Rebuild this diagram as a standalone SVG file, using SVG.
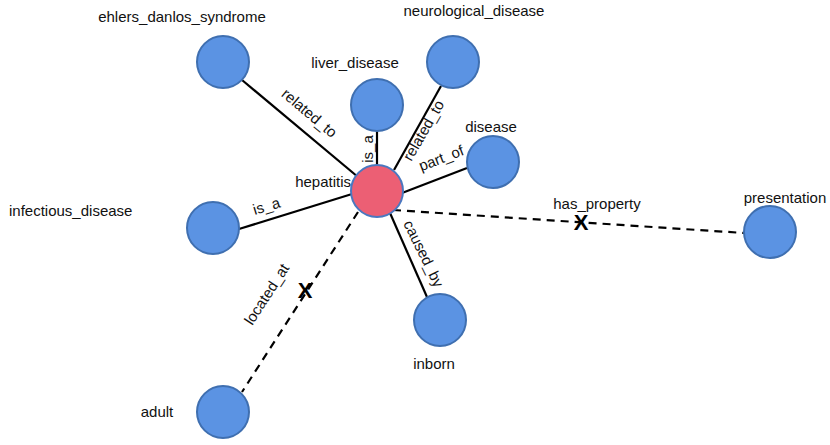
<svg xmlns="http://www.w3.org/2000/svg" width="830" height="445" viewBox="0 0 830 445">
<style>
.n{fill:#5b93e3;stroke:#3f6fb0;stroke-width:2}
.h{fill:#ec5f74;stroke:#4a78c0;stroke-width:2}
.t{font-family:"Liberation Sans",Arial,sans-serif;font-size:15px;fill:#111}
.e{font-family:"Liberation Sans",Arial,sans-serif;font-size:15px;fill:#111}
.s{stroke:#000;stroke-width:2.2;fill:none}
.d{stroke:#000;stroke-width:2.2;fill:none;stroke-dasharray:8,6}
.x{font-family:"Liberation Sans",Arial,sans-serif;font-size:22px;font-weight:bold;fill:#000}
</style>
<rect width="830" height="445" fill="#fff"/>
<g id="connectors">
<line class="s" x1="242" y1="80" x2="358" y2="177"/>
<line class="s" x1="377" y1="131" x2="377" y2="166"/>
<line class="s" x1="441" y1="86" x2="394" y2="170"/>
<line class="s" x1="467" y1="168" x2="402" y2="193"/>
<line class="s" x1="239" y1="229" x2="352" y2="194"/>
<line class="s" x1="390" y1="213" x2="427" y2="297"/>
<line class="d" x1="393" y1="210" x2="744" y2="233"/>
<line class="d" x1="358" y1="212" x2="242" y2="392"/>
<text class="e" text-anchor="middle" transform="translate(306,117) rotate(40)">related_to</text>
<text class="e" text-anchor="middle" transform="translate(373,149) rotate(-90)">is_a</text>
<text class="e" text-anchor="middle" transform="translate(428,133) rotate(-60)">related_to</text>
<text class="e" text-anchor="middle" transform="translate(443,163) rotate(-21)">part_of</text>
<text class="e" text-anchor="middle" transform="translate(268,211) rotate(-17)">is_a</text>
<text class="e" text-anchor="middle" transform="translate(597,209)">has_property</text>
<text class="e" text-anchor="middle" transform="translate(419,256) rotate(64)">caused_by</text>
<text class="e" text-anchor="middle" transform="translate(271,297) rotate(-57)">located_at</text>
<text class="x" text-anchor="middle" x="581" y="230">X</text>
<text class="x" text-anchor="middle" x="305" y="298">X</text>
</g>
<g id="ehlers_danlos_syndrome"><circle class="n" cx="223" cy="62" r="26"/><text class="t" text-anchor="middle" x="182" y="22">ehlers_danlos_syndrome</text></g>
<g id="neurological_disease"><circle class="n" cx="453" cy="62" r="26"/><text class="t" text-anchor="middle" x="474" y="16">neurological_disease</text></g>
<g id="liver_disease"><circle class="n" cx="377" cy="105" r="26"/><text class="t" text-anchor="middle" x="355" y="68">liver_disease</text></g>
<g id="disease"><circle class="n" cx="493" cy="162" r="26"/><text class="t" text-anchor="middle" x="491" y="132">disease</text></g>
<g id="hepatitis"><circle class="h" cx="377" cy="191" r="26"/><text class="t" text-anchor="end" x="351" y="187">hepatitis</text></g>
<g id="infectious_disease"><circle class="n" cx="213" cy="228" r="26"/><text class="t" x="9" y="216">infectious_disease</text></g>
<g id="presentation"><circle class="n" cx="770" cy="232" r="26"/><text class="t" text-anchor="middle" x="785" y="203">presentation</text></g>
<g id="inborn"><circle class="n" cx="440" cy="320" r="26"/><text class="t" text-anchor="middle" x="434" y="369">inborn</text></g>
<g id="adult"><circle class="n" cx="223" cy="412" r="26"/><text class="t" text-anchor="middle" x="157" y="417">adult</text></g>
</svg>
